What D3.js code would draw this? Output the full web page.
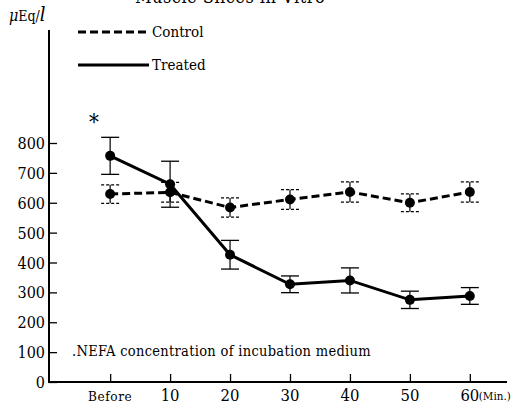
<!DOCTYPE html>
<html>
<head>
<meta charset="utf-8">
<script src="https://cdn.jsdelivr.net/npm/d3@7"></script>
<style>
  body { margin: 0; background: #fff; }
</style>
</head>
<body>
<svg id="chart" width="523" height="404"></svg>
<script>
// Sampling times (minutes); 0 stands for the "Before" sample
const times = [0, 10, 20, 30, 40, 50, 60];
const timeLabels = ["Before", "10", "20", "30", "40", "50", "60"];
const yTicks = [0, 100, 200, 300, 400, 500, 600, 700, 800];

// NEFA concentration (μEq/l), mean and error
const controlMean = [629, 635, 584, 611, 636, 600, 636];
const controlErr  = [31, 33, 32, 33, 34, 30, 34];
const treatedMean = [757, 662, 426, 327, 340, 275, 288];
const treatedErr  = [62, 77, 48, 28, 42, 29, 28];

const SERIF = "'DejaVu Serif Condensed', 'DejaVu Serif', serif";
const svg = d3.select("#chart");

const x = d3.scaleLinear().domain([-10.2, 66.2]).range([49, 507]);
const y = d3.scaleLinear().domain([0, 800]).range([382, 143]);
const yTop = 30;

function label(sel) {
  return sel.attr("font-family", SERIF).attr("font-stretch", "condensed").attr("fill", "#000");
}

// Axes
svg.append("line").attr("x1", x(-10.2)).attr("x2", x(66.2))
  .attr("y1", y(0)).attr("y2", y(0))
  .attr("stroke", "#000").attr("stroke-width", 2);
svg.append("line").attr("x1", x(-10.2)).attr("x2", x(-10.2))
  .attr("y1", y(0) + 1).attr("y2", yTop)
  .attr("stroke", "#000").attr("stroke-width", 2);

const yAxis = d3.axisRight(y).tickValues(yTicks).tickSize(8).tickFormat("");
const gy = svg.append("g").attr("transform", `translate(${x(-10.2)},0)`).call(yAxis);
gy.select(".domain").remove();
gy.selectAll(".tick line").attr("stroke-width", 1.3);

svg.append("g").selectAll("text").data(yTicks).join("text")
  .call(label)
  .attr("x", 45).attr("y", d => y(d) + 6)
  .attr("text-anchor", "end").attr("font-size", 16).text(d => d);

const xAxis = d3.axisTop(x).tickValues(times).tickSize(8).tickFormat("");
const gx = svg.append("g").attr("transform", `translate(0,${y(0)})`).call(xAxis);
gx.select(".domain").remove();
gx.selectAll(".tick line").attr("stroke-width", 1.3);

svg.append("g").selectAll("text").data(times).join("text")
  .call(label)
  .attr("x", d => x(d)).attr("y", 401)
  .attr("text-anchor", "middle")
  .attr("font-size", (d, i) => i === 0 ? 13.5 : 16.5)
  .attr("letter-spacing", (d, i) => i === 0 ? 0.6 : 0)
  .text((d, i) => timeLabels[i]);
svg.append("text").call(label).attr("x", x(60) + 9).attr("y", 400)
  .attr("font-size", 11.5).text("(Min.)");

// Unit label, title and notes
const unit = svg.append("text").call(label).attr("x", 9).attr("y", 21).attr("font-size", 16);
unit.append("tspan").attr("font-style", "italic").text("μ");
unit.append("tspan").attr("font-size", 14).text("Eq/");
unit.append("tspan").attr("font-style", "italic").attr("font-size", 20).text("l");
svg.append("text").call(label).attr("x", 135).attr("y", 3).attr("font-size", 18)
  .attr("letter-spacing", 0.5).text("Muscle Slices in Vitro");
svg.append("text").call(label).attr("x", 72).attr("y", 356).attr("font-size", 14.5)
  .attr("letter-spacing", 0.3).text(".NEFA concentration of incubation medium");
svg.append("text").call(label).attr("x", 94).attr("y", 130).attr("font-size", 22)
  .attr("text-anchor", "middle").text("*");

// Series
const series = [
  { name: "Control", mean: controlMean, err: controlErr, dash: "8,4" },
  { name: "Treated", mean: treatedMean, err: treatedErr, dash: null }
];

const line = d3.line().x(d => x(d[0])).y(d => y(d[1]));

series.forEach(s => {
  const pts = times.map((t, i) => [t, s.mean[i], s.err[i]]);
  const g = svg.append("g");
  // error bars
  g.selectAll("line.stem").data(pts).join("line")
    .attr("x1", d => x(d[0])).attr("x2", d => x(d[0]))
    .attr("y1", d => y(d[1] + d[2])).attr("y2", d => y(d[1] - d[2]))
    .attr("stroke", "#000").attr("stroke-width", 1.2);
  [1, -1].forEach(sign => {
    g.selectAll(null).data(pts).join("line")
      .attr("x1", d => x(d[0]) - 9).attr("x2", d => x(d[0]) + 9)
      .attr("y1", d => y(d[1] + sign * d[2])).attr("y2", d => y(d[1] + sign * d[2]))
      .attr("stroke", "#000").attr("stroke-width", 1.3)
      .attr("stroke-dasharray", s.dash ? "3,2" : null);
  });
  g.append("path").datum(pts).attr("d", line)
    .attr("fill", "none").attr("stroke", "#000").attr("stroke-width", 3)
    .attr("stroke-dasharray", s.dash);
  g.selectAll("circle").data(pts).join("circle")
    .attr("cx", d => x(d[0])).attr("cy", d => y(d[1])).attr("r", 5)
    .attr("fill", "#000");
});

// Legend
const legend = svg.append("g");
series.forEach((s, i) => {
  const ly = 32 + i * 33;
  legend.append("line").attr("x1", 78).attr("x2", 149).attr("y1", ly).attr("y2", ly)
    .attr("stroke", "#000").attr("stroke-width", 3)
    .attr("stroke-dasharray", s.dash);
  legend.append("text").call(label).attr("x", 152).attr("y", ly + 5).attr("font-size", 15)
    .text(s.name);
});
</script>
</body>
</html>
